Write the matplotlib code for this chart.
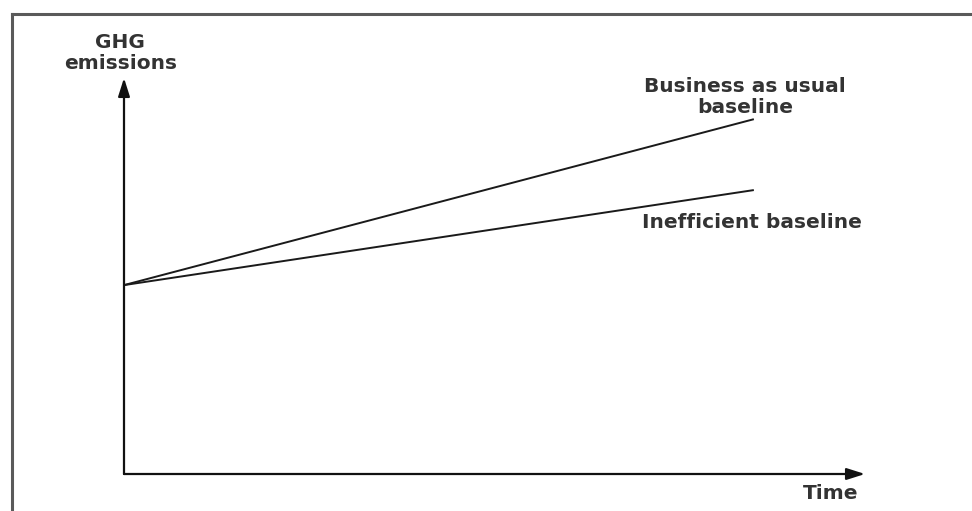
import matplotlib
matplotlib.use("Agg")
import matplotlib.pyplot as plt
from matplotlib.lines import Line2D

# Data (conceptual units: time 0-10, emissions 0-10)
time_points = [0.0, 8.5]
bau_baseline = [4.77, 8.96]
inefficient_baseline = [4.77, 7.17]
labels = {
    "y": "GHG\nemissions",
    "x": "Time",
    "bau": "Business as usual\nbaseline",
    "ineff": "Inefficient baseline",
}

W, H = 972, 511
fig = plt.figure(figsize=(W / 100, H / 100), dpi=100)
fig.patch.set_facecolor("white")

# frame (top and left only, cropped)
fx = 12 / W
fy = 1 - 14 / H
fig.add_artist(Line2D([fx, 1.0], [fy, fy], transform=fig.transFigure, color="#5a5a5a", lw=2.2))
fig.add_artist(Line2D([fx, fx], [fy, 0.0], transform=fig.transFigure, color="#5a5a5a", lw=2.2))

left, right, top, bottom = 124, 865, 78, 474
ax = fig.add_axes([left / W, (H - bottom) / H, (right - left) / W, (bottom - top) / H])
ax.set_xlim(0, 10)
ax.set_ylim(0, 10)
ax.set_facecolor("none")
for s in ax.spines.values():
    s.set_visible(False)
ax.set_xticks([])
ax.set_yticks([])

# axes arrows
arrow_kw = dict(arrowstyle="-|>,head_length=1.1,head_width=0.35", color="#111111", lw=1.6,
                shrinkA=0, shrinkB=0)
ax.annotate("", xy=(10, 0), xytext=(0, 0), arrowprops=arrow_kw, annotation_clip=False)
ax.annotate("", xy=(0, 10), xytext=(0, 0), arrowprops=arrow_kw, annotation_clip=False)

ax.plot(time_points, bau_baseline, color="#1a1a1a", lw=1.4, solid_capstyle="butt")
ax.plot(time_points, inefficient_baseline, color="#1a1a1a", lw=1.4, solid_capstyle="butt")

tk = dict(family="DejaVu Sans", fontsize=14.5, color="#333333", fontweight="bold")
ax.text(-0.05, 10.12, labels["y"], ha="center", va="bottom", linespacing=1.15, **tk)
ax.text(8.38, 9.52, labels["bau"], ha="center", va="center", linespacing=1.15, **tk)
ax.text(6.99, 6.36, labels["ineff"], ha="left", va="center", **tk)
ax.text(9.53, -0.48, labels["x"], ha="center", va="center", **tk)

fig.savefig("out.png", dpi=100, facecolor="white")
